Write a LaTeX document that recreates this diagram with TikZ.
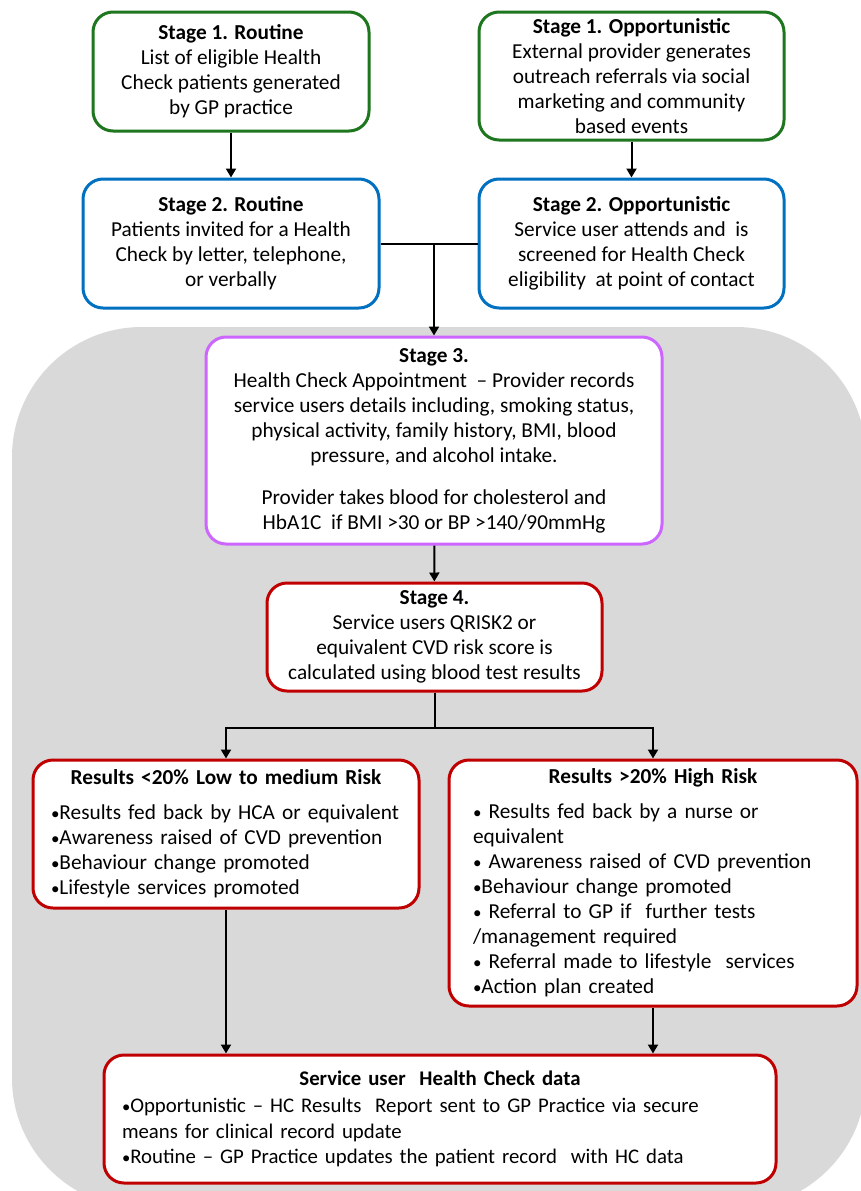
\documentclass[tikz,border=0pt]{standalone}
\usepackage{fontspec}
\setmainfont{Carlito}
\usetikzlibrary{arrows.meta}
\definecolor{cgreen}{RGB}{30,118,30}
\definecolor{cblue}{RGB}{0,112,192}
\definecolor{cpurple}{RGB}{204,102,255}
\definecolor{cred}{RGB}{192,0,0}
\definecolor{cgray}{RGB}{217,217,217}
\newcommand{\bul}{{\scalebox{0.8}{•}}}
\begin{document}
\begin{tikzpicture}[x=1pt,y=-1pt,
  box/.style={draw, line width=3pt, rounded corners=20pt, fill=white, inner sep=0pt,
    font=\fontsize{21.3}{25}\selectfont, align=center},
  arr/.style={line width=2pt, -{Triangle[width=10pt,length=9pt]}},
  ln/.style={line width=2pt}]
\useasboundingbox (0,0) rectangle (861,1191);
\fill[white] (0,0) rectangle (861,1191);
\begin{scope}
\clip (0,0) rectangle (861,1191);
\fill[cgray, rounded corners=130pt] (12,327) rectangle (866,1208);
\end{scope}

\node[box, draw=cgreen, minimum width=276pt, minimum height=119pt] (s1r) at (231,71.5)
  {\textbf{Stage 1. Routine}\\List of eligible Health\\Check patients generated\\by GP practice};
\node[box, draw=cgreen, minimum width=305pt, minimum height=128pt] (s1o) at (631.5,76)
  {\textbf{Stage 1. Opportunistic}\\External provider generates\\outreach referrals via social\\marketing and community\\based events};
\node[box, draw=cblue, minimum width=296pt, minimum height=129pt] (s2r) at (231,243.5)
  {\textbf{Stage 2. Routine}\\Patients invited for a Health\\Check by letter, telephone,\\or verbally};
\node[box, draw=cblue, minimum width=305pt, minimum height=129pt] (s2o) at (631.5,243.5)
  {\textbf{Stage 2. Opportunistic}\\Service user attends and\ \ is\\screened for Health Check\\eligibility\ \ at point of contact};
\node[box, draw=cpurple, minimum width=456pt, minimum height=207pt] (s3) at (434,440.5)
  {\textbf{Stage 3.}\\Health Check Appointment\ \ -- Provider records\\service users details including, smoking status,\\physical activity, family history, BMI, blood\\pressure, and alcohol intake.\\[17pt]Provider takes blood for cholesterol and\\HbA1C\ \ if BMI >30 or BP >140/90mmHg};
\node[box, draw=cred, minimum width=335pt, minimum height=108pt] (s4) at (434.5,637)
  {\textbf{Stage 4.}\\Service users QRISK2 or\\equivalent CVD risk score is\\calculated using blood test\ results};
\node[box, draw=cred, minimum width=386pt, minimum height=148pt, text width=350pt, align=left] (low) at (226,834)
  {\makebox[350pt]{\textbf{Results <20\% Low to medium Risk}}\\[10pt]
   \bul Results fed back by HCA or equivalent\\
   \bul Awareness raised of CVD prevention\\
   \bul Behaviour change promoted\\
   \bul Lifestyle services promoted};
\node[box, draw=cred, minimum width=408pt, minimum height=246pt, text width=360pt, align=left] (high) at (653,883)
  {\makebox[360pt]{\textbf{Results >20\% High Risk}}\\[10pt]
   \bul\ Results fed back by a nurse or\\
   equivalent\\
   \bul\ Awareness raised of CVD prevention\\
   \bul Behaviour change promoted\\
   \bul\ Referral to GP if\ \ further tests\\
   /management required\\
   \bul\ Referral made to lifestyle\ \ services\\
   \bul Action plan created};
\node[box, draw=cred, minimum width=672pt, minimum height=128pt, text width=636pt, align=left,
      font=\fontsize{20.8}{25.5}\selectfont] (fin) at (440,1119)
  {\makebox[636pt]{\textbf{Service user\ \ Health Check data}}\\[2pt]
   \bul Opportunistic -- HC Results\ \ Report sent to GP Practice via secure\\
   means for clinical record update\\
   \bul Routine -- GP Practice updates the\ patient record\ \ with HC data};

\draw[arr] (s1r) -- (s2r);
\draw[arr] (s1o) -- (s2o);
\coordinate (j1) at (s3.north |- s2r.east);
\draw[ln] (s2r.east) -- (s2o.west);
\draw[arr] (j1) -- (s3.north);
\draw[arr] (s3) -- (s4);
\path (s4.south) ++(0,35) coordinate (j2);
\draw[ln] (s4.south) -- (j2);
\draw[arr] (j2) -| (low.north);
\draw[arr] (j2) -| (high.north);
\draw[arr] (low.south) -- (low.south |- fin.north);
\draw[arr] (high.south) -- (high.south |- fin.north);
\end{tikzpicture}
\end{document}
